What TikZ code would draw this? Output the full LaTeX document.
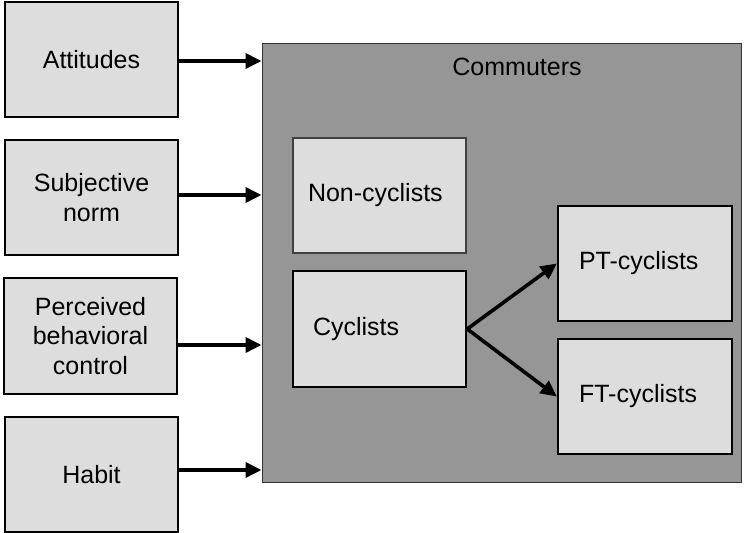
\documentclass[tikz,border=0pt]{standalone}
\usepackage{fontspec}
\setmainfont{Liberation Sans}
\usetikzlibrary{arrows.meta}

\definecolor{boxgrey}{HTML}{DDDDDD}
\definecolor{groupgrey}{HTML}{969696}

\tikzset{
  factorbox/.style={draw=black,line width=1pt,fill=boxgrey,minimum width=86.5pt,minimum height=57.5pt,align=center,inner sep=0pt},
  classbox/.style={draw=black,line width=1.2pt,fill=boxgrey,minimum width=86.5pt,minimum height=57.5pt,align=left,inner ysep=0pt},
  flow/.style={line width=1.8pt,-{Triangle[length=8pt,width=7.5pt]}}
}

\begin{document}
\begin{tikzpicture}[x=0.5pt,y=-0.5pt,font=\fontsize{12.5}{14.75}\selectfont]
  \useasboundingbox (0,0) rectangle (744,533);

  % outer group
  \node[draw=black!80,line width=0.5pt,fill=groupgrey,minimum width=239.5pt,minimum height=219.5pt] (com) at (501.5,263.5) {};
  \node (comtxt) at (517,67) {Commuters};

  % predictors
  \node[factorbox] (att) at (91.5,59.5) {Attitudes};
  \node[factorbox] (sn) at (91.5,197.5) {Subjective\\norm};
  \node[factorbox,minimum height=58pt] (pbc) at (90.5,336) {Perceived\\behavioral\\control};
  \node[factorbox] (hab) at (91.5,475) {Habit};

  \draw[flow] ([yshift=-0.75pt]att.east) -- ([yshift=-0.75pt]att.east -| com.west);
  \draw[flow] ([yshift=1.25pt]sn.east) -- ([yshift=1.25pt]sn.east -| com.west);
  \draw[flow] ([yshift=-4.5pt]pbc.east) -- ([yshift=-4.5pt]pbc.east -| com.west);
  \draw[flow] ([yshift=2.5pt]hab.east) -- ([yshift=2.5pt]hab.east -| com.west);

  % groups inside
  \node[classbox,draw=black!75,line width=0.6pt,inner xsep=7.5pt,text width=71.5pt] (non) at (379.5,195.5) {Non-cyclists};
  \node[classbox,inner xsep=10pt,text width=66.5pt,minimum height=58pt] (cyc) at (379.5,329) {Cyclists};
  \node[classbox,minimum width=87pt,inner xsep=10.5pt,text width=66pt] (pt) at (645,263.5) {PT-cyclists\\[6pt]};
  \node[classbox,minimum width=87pt,inner xsep=10.5pt,text width=66pt] (ft) at (645,396.5) {FT-cyclists\\[4pt]};

  \draw[flow] (cyc.east) -- (pt.west);
  \draw[flow] (cyc.east) -- (ft.west);
\end{tikzpicture}
\end{document}
